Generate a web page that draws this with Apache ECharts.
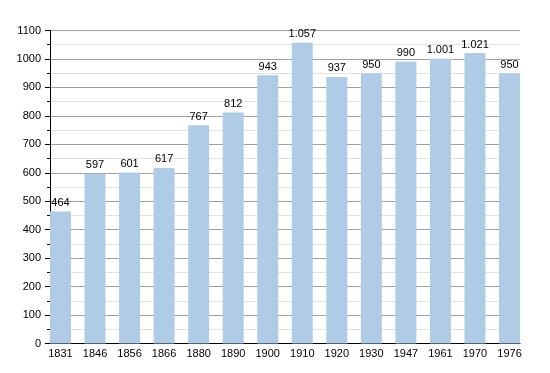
<!DOCTYPE html>
<html><head><meta charset="utf-8">
<script src="https://cdn.jsdelivr.net/npm/echarts@6/dist/echarts.min.js"></script>
<style>html,body{margin:0;padding:0;background:#fff}#c{width:550px;height:373px}</style>
</head><body><div id="c"></div>
<script>
const years = ['1831','1846','1856','1866','1880','1890','1900','1910','1920','1930','1947','1961','1970','1976'];
const population = [464,597,601,617,767,812,943,1057,937,950,990,1001,1021,950];
const yMin = 0, yMax = 1100, yStep = 100;

function fmt(v){ return String(v).replace(/\B(?=(\d{3})+(?!\d))/g,'.'); }
const font = 'Liberation Sans, Arial, sans-serif';
const chart = echarts.init(document.getElementById('c'), null, {renderer:'canvas'});
chart.setOption({
  animation:false,
  grid:[
    {left:50, right:30, top:30.5, bottom:29.5},
    {left:43.2, right:23.2, top:30.5, bottom:29.5}
  ],
  xAxis:[
    {gridIndex:0, type:'value', min:0, max:1, axisLine:{show:true,lineStyle:{color:'#000',width:1}}, axisTick:{show:false}, axisLabel:{show:false}, splitLine:{show:false}},
    {gridIndex:1, type:'category', data:years, axisLine:{show:false}, axisTick:{show:false},
     axisLabel:{color:'#000', fontFamily:font, fontSize:11, margin:5}}
  ],
  yAxis:[
    {gridIndex:0, type:'value', min:yMin, max:yMax, interval:yStep,
     axisLine:{show:true,lineStyle:{color:'#000',width:1}},
     axisTick:{show:true,length:5,lineStyle:{color:'#000'}},
     minorTick:{show:true,splitNumber:2,length:3,lineStyle:{color:'#000'}},
     axisLabel:{color:'#000', fontFamily:font, fontSize:11, margin:9, formatter:v=>String(v)},
     splitLine:{show:true,lineStyle:{color:'#a0a0a0',width:1}},
     minorSplitLine:{show:true,lineStyle:{color:'#e2e2e2',width:1}}},
    {gridIndex:1, type:'value', min:yMin, max:yMax, show:false}
  ],
  series:[{
    type:'bar', xAxisIndex:1, yAxisIndex:1, data:population, barWidth:21,
    itemStyle:{color:'#b0cbe6'},
    label:{show:true, position:'top', distance:3, color:'#000', fontFamily:font, fontSize:11, formatter:p=>fmt(p.value)}
  }]
});
</script></body></html>
